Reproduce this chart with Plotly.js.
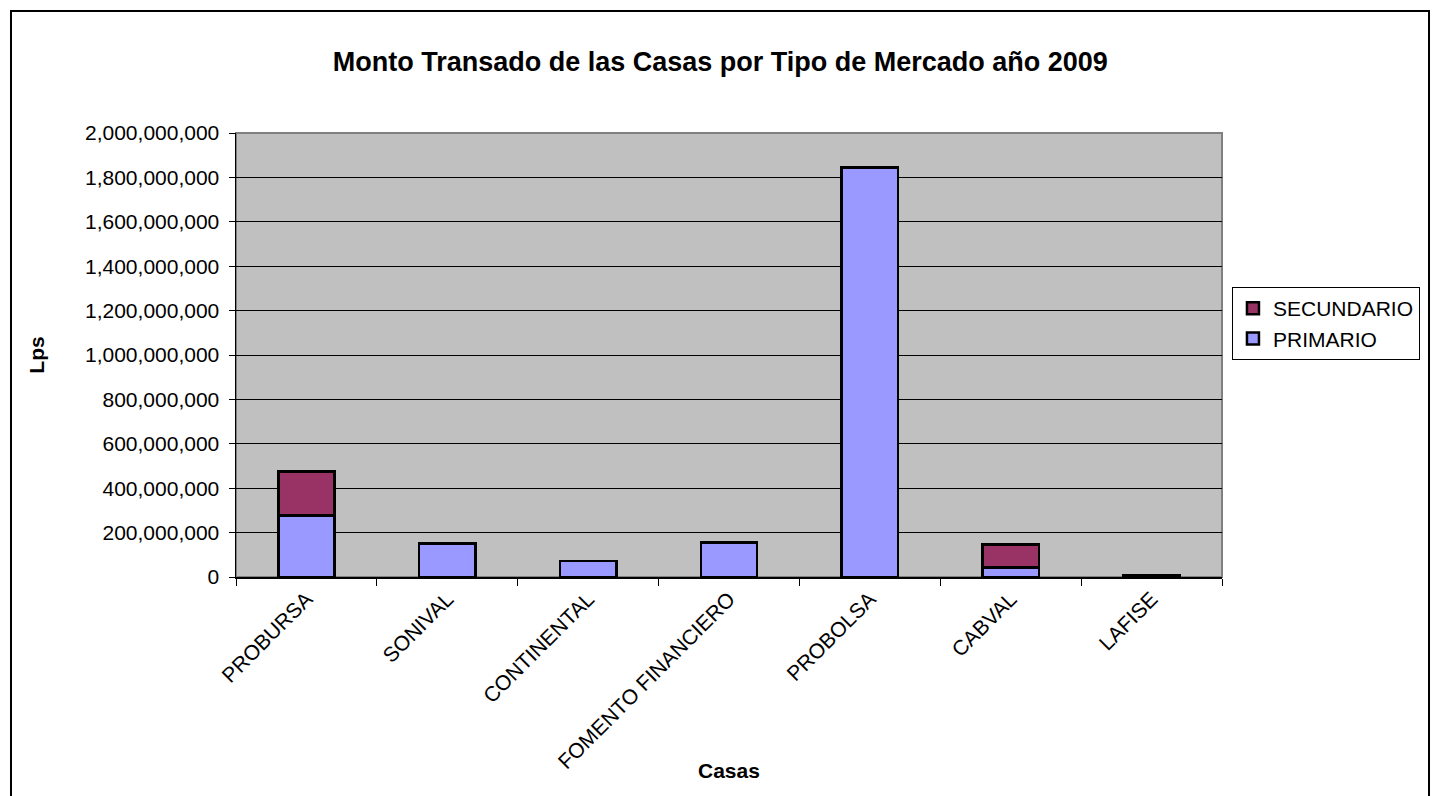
<!DOCTYPE html>
<html>
<head>
<meta charset="utf-8">
<script src="https://cdn.plot.ly/plotly-3.0.1.min.js"></script>
<style>
  html, body { margin: 0; padding: 0; background: #ffffff; }
  #chart { position: absolute; left: 0; top: 0; width: 1432px; height: 796px; }
  #frame { position: absolute; left: 10px; top: 10px; width: 1420px; height: 800px; border: 2px solid #000; pointer-events: none; box-sizing: border-box; }
</style>
</head>
<body>
<div id="chart"></div>
<div id="frame"></div>
<script>
const categories = ["PROBURSA", "SONIVAL", "CONTINENTAL", "FOMENTO FINANCIERO", "PROBOLSA", "CABVAL", "LAFISE"];
const primario = [278000000, 152000000, 71000000, 155000000, 1845000000, 42000000, 6000000];
const secundario = [198000000, null, null, null, null, 105000000, 2000000];
const yTickVals = [0, 200000000, 400000000, 600000000, 800000000, 1000000000, 1200000000, 1400000000, 1600000000, 1800000000, 2000000000];

const FONT = "Liberation Sans, Arial, sans-serif";

const traces = [
  {
    type: "bar", name: "PRIMARIO", x: categories, y: primario,
    marker: { color: "#9999FF", line: { color: "#000000", width: 2.5 } }
  },
  {
    type: "bar", name: "SECUNDARIO", x: categories, y: secundario,
    marker: { color: "#993366", line: { color: "#000000", width: 2.5 } }
  }
];

const layout = {
  width: 1432, height: 796,
  paper_bgcolor: "#ffffff",
  plot_bgcolor: "#C0C0C0",
  font: { family: FONT, size: 21, color: "#000" },
  margin: { l: 236, r: 206, t: 133, b: 219 },
  barmode: "stack",
  bargap: 0.6,
  title: {
    text: "<b>Monto Transado de las Casas por Tipo de Mercado año 2009</b>",
    font: { family: FONT, size: 27, color: "#000" },
    x: 0.503, xanchor: "center", xref: "container",
    y: 1 - 62 / 796, yanchor: "middle", yref: "container"
  },
  xaxis: {
    type: "category",
    tickangle: -45,
    ticks: "outside", ticklen: 7, tickcolor: "#000", tickwidth: 1,
    tickson: "boundaries",
    showline: true, linecolor: "#000", linewidth: 1.5,
    showgrid: false,
    tickfont: { family: FONT, size: 21, color: "#000" },
    automargin: false
  },
  yaxis: {
    range: [0, 2000000000],
    tickvals: yTickVals,
    tickformat: ",d",
    ticks: "outside", ticklen: 6, tickcolor: "#000", tickwidth: 1,
    ticklabelstandoff: 5,
    showline: true, linecolor: "#000", linewidth: 1.5,
    showgrid: true, gridcolor: "#000", gridwidth: 1,
    zeroline: false,
    tickfont: { family: FONT, size: 21, color: "#000" },
    title: { text: "<b>Lps</b>", font: { family: FONT, size: 21, color: "#000" }, standoff: 34 },
    automargin: false
  },
  legend: {
    x: 1.0101, xanchor: "left",
    y: 0.653, yanchor: "top",
    bgcolor: "#ffffff", bordercolor: "#000", borderwidth: 1,
    traceorder: "reversed",
    font: { family: FONT, size: 21, color: "#000" },
    itemwidth: 30, tracegroupgap: 2
  },
  shapes: [
    { type: "rect", xref: "paper", yref: "paper", x0: 0, x1: 1, y0: 0, y1: 1,
      line: { color: "#808080", width: 2 }, layer: "below" }
  ],
  annotations: [
    { text: "<b>Casas</b>", xref: "paper", yref: "paper", x: 0.5, y: -(770 - 577) / 444,
      xanchor: "center", yanchor: "middle", showarrow: false,
      font: { family: FONT, size: 21, color: "#000" } }
  ]
};

Plotly.newPlot("chart", traces, layout, { displayModeBar: false, staticPlot: true });
</script>
</body>
</html>
